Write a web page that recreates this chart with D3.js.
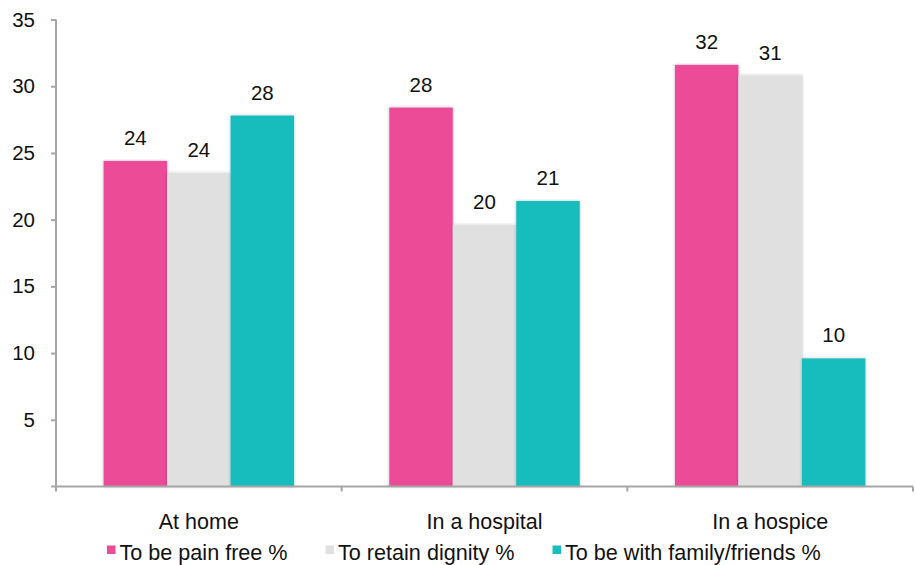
<!DOCTYPE html>
<html>
<head>
<meta charset="utf-8">
<script src="https://cdn.jsdelivr.net/npm/d3@7"></script>
<style>
  html, body { margin: 0; padding: 0; background: #fff; }
  svg { display: block; font-family: "Liberation Sans", Arial, Helvetica, sans-serif; }
</style>
</head>
<body>
<svg id="chart" width="916" height="565"></svg>
<script>
// Where people would prefer to die, by what matters most to them (%)
const places = ["At home", "In a hospital", "In a hospice"];
const seriesNames = ["To be pain free %", "To retain dignity %", "To be with family/friends %"];
const painFree = [24.4, 28.4, 31.6];
const dignity = [23.5, 19.6, 30.8];
const familyFriends = [27.8, 21.4, 9.6];
const yTicks = [5, 10, 15, 20, 25, 30, 35];
const colors = ["#ec4b98", "#e0e0e0", "#19bdbc"];

const seriesValues = [painFree, dignity, familyFriends];
const rows = places.map((p, i) => ({
  place: p,
  values: seriesNames.map((s, j) => ({ series: s, value: seriesValues[j][i], idx: j }))
}));

const svg = d3.select("#chart");
const margin = { top: 19.5, right: 3, bottom: 78.5, left: 56 };
const W = 916, H = 565;
const innerW = W - margin.left - margin.right;
const innerH = H - margin.top - margin.bottom;

const defs = svg.append("defs");
const shadow = defs.append("filter").attr("id", "barShadow")
  .attr("x", "-20%").attr("y", "-5%").attr("width", "140%").attr("height", "110%");
shadow.append("feDropShadow").attr("dx", 0).attr("dy", 0)
  .attr("stdDeviation", 1.6).attr("flood-color", "#000").attr("flood-opacity", 0.28);

const g = svg.append("g").attr("transform", `translate(${margin.left},${margin.top})`);

const x0 = d3.scaleBand().domain(places).range([0, innerW]).padding(0);
const x1 = d3.scaleBand().domain(seriesNames).range([0, x0.bandwidth()])
  .paddingInner(0).paddingOuter(0.75);
const y = d3.scaleLinear().domain([0, 35]).range([innerH, 0]);

// Bars
const groups = g.selectAll(".grp").data(rows).join("g")
  .attr("class", "grp")
  .attr("transform", d => `translate(${x0(d.place)},0)`);

groups.selectAll("rect").data(d => d.values).join("rect")
  .attr("x", d => x1(d.series))
  .attr("y", d => y(d.value))
  .attr("width", x1.bandwidth())
  .attr("height", d => innerH - y(d.value))
  .attr("fill", d => colors[d.idx])
  .attr("filter", "url(#barShadow)");

// Value labels
groups.selectAll("text.val").data(d => d.values).join("text")
  .attr("class", "val")
  .attr("x", d => x1(d.series) + x1.bandwidth() / 2)
  .attr("y", d => y(d.value) - 16)
  .attr("text-anchor", "middle")
  .attr("font-size", 20.5)
  .attr("fill", "#111")
  .text(d => Math.round(d.value));

// Y axis
const yAxis = g.append("g")
  .call(d3.axisLeft(y).tickValues(yTicks).tickSize(5).tickPadding(16).tickFormat(d3.format("d")));
yAxis.select(".domain").remove();
yAxis.selectAll(".tick line").attr("stroke", "#a6a6a6").attr("stroke-width", 2);
yAxis.selectAll(".tick text").attr("font-size", 20.5).attr("fill", "#111")
  .attr("font-family", "Liberation Sans, Arial, sans-serif");
g.append("line")
  .attr("x1", 0).attr("x2", 0).attr("y1", 0).attr("y2", innerH + 5)
  .attr("stroke", "#a6a6a6").attr("stroke-width", 2);
g.append("line")
  .attr("x1", -5).attr("x2", 0).attr("y1", innerH).attr("y2", innerH)
  .attr("stroke", "#a6a6a6").attr("stroke-width", 2);

// X axis: baseline with ticks at category boundaries
const xAxisG = g.append("g").attr("transform", `translate(0,${innerH})`);
xAxisG.append("line")
  .attr("x1", 0).attr("x2", innerW).attr("y1", 0).attr("y2", 0)
  .attr("stroke", "#a6a6a6").attr("stroke-width", 2);
const boundaries = places.map(p => x0(p)).concat([x0.range()[1]]);
xAxisG.selectAll("line.bt").data(boundaries.slice(1)).join("line")
  .attr("class", "bt")
  .attr("x1", d => d).attr("x2", d => d).attr("y1", 0).attr("y2", 5)
  .attr("stroke", "#a6a6a6").attr("stroke-width", 2);
xAxisG.selectAll("text").data(places).join("text")
  .attr("x", d => x0(d) + x0.bandwidth() / 2)
  .attr("y", 42.5)
  .attr("text-anchor", "middle")
  .attr("font-size", 21.5)
  .attr("fill", "#111")
  .text(d => d);

// Legend
const legend = svg.append("g").attr("transform", "translate(107,0)");
let lx = 0;
seriesNames.forEach((s, i) => {
  const item = legend.append("g").attr("transform", `translate(${lx},0)`);
  item.append("rect").attr("x", 0).attr("y", 545.5).attr("width", 8.5).attr("height", 8.5)
    .attr("fill", colors[i]);
  const t = item.append("text").attr("x", 12.5).attr("y", 560)
    .attr("font-size", 21.6).attr("fill", "#111").text(s);
  lx += 12.5 + t.node().getComputedTextLength() + 38;
});
</script>
</body>
</html>
